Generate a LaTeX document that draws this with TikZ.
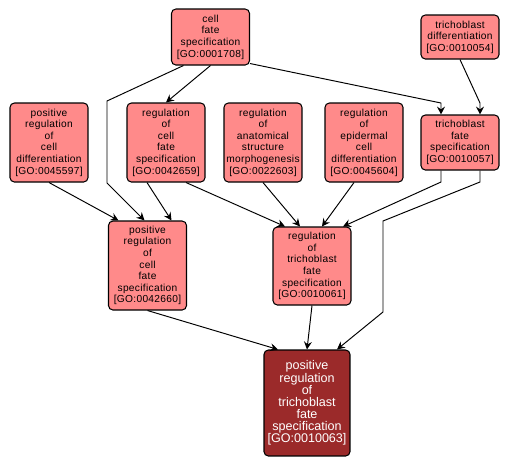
\documentclass[tikz,border=0pt]{standalone}
\usepackage{fontspec}
\usepackage{tikz}
\usepackage{xcolor}
\usetikzlibrary{arrows.meta,calc}
\newfontfamily\golabel[LetterSpace=3]{Liberation Sans}
\newfontfamily\gomain{Liberation Sans}
\definecolor{termfill}{RGB}{255,138,138}
\definecolor{mainfill}{RGB}{155,42,42}

\begin{document}
\begin{tikzpicture}[
  x=0.02cm, y=-0.02cm,
  term/.style={draw, line width=0.6pt, rounded corners=2.5pt, fill=termfill, align=center,
    inner sep=1pt, minimum width=1.56cm, font=\golabel\fontsize{5.8}{6.6}\selectfont},
  goal/.style={term, fill=mainfill, text=white, minimum width=1.72cm,
    font=\gomain\fontsize{7.15}{6.9}\selectfont},
  edge/.style={line width=0.55pt, -{Stealth[length=4.5pt, width=4.5pt, inset=1.6pt]}},
]
\useasboundingbox (0,0) rectangle (511,468);
% wiersz gorny
\node[term, minimum height=1.12cm] (cfs) at (210.5,37) {cell\\fate\\specification\\{}[GO:0001708]};
\node[term, minimum height=0.88cm] (td) at (460,37) {trichoblast\\differentiation\\{}[GO:0010054]};
% wiersz drugi
\node[term, minimum height=1.58cm] (prcd) at (49,142.5) {positive\\regulation\\of\\cell\\differentiation\\{}[GO:0045597]};
\node[term, minimum height=1.58cm] (rcfs) at (166,142.5) {regulation\\of\\cell\\fate\\specification\\{}[GO:0042659]};
\node[term, minimum height=1.58cm] (rasm) at (263,142.5) {regulation\\of\\anatomical\\structure\\morphogenesis\\{}[GO:0022603]};
\node[term, minimum height=1.58cm] (recd) at (364,142.5) {regulation\\of\\epidermal\\cell\\differentiation\\{}[GO:0045604]};
\node[term, minimum height=1.10cm] (tfs) at (460,142.5) {trichoblast\\fate\\specification\\{}[GO:0010057]};
% wiersz trzeci
\node[term, minimum height=1.78cm] (prcfs) at (147.5,265.5) {positive\\regulation\\of\\cell\\fate\\specification\\{}[GO:0042660]};
\node[term, minimum height=1.56cm] (rtfs) at (312,266) {regulation\\of\\trichoblast\\fate\\specification\\{}[GO:0010061]};
% wynik
\node[goal, minimum height=2.12cm] (prtfs) at (307,403) {positive\\regulation\\of\\trichoblast\\fate\\specification\\{}[GO:0010063]};
% punkty zalaman
\coordinate (k1) at (107,101);
\coordinate (k2) at (107,183);
\coordinate (k3) at (441,103);
\coordinate (k4) at (480,103);
\coordinate (k5) at (441,182);
\coordinate (k6) at (480,182);
\coordinate (k7) at (383,221);
\coordinate (k8) at (383,312);
% krawedzie
\draw[edge] (cfs.south) -- (rcfs.north);
\draw[edge] ($(cfs.south)+(-27,0)$) -- (k1) -- (k2) -- ($(prcfs.north)+(-3,0)$);
\draw[edge] ($(cfs.south east)+(0,-2)$) -- (k3) -- (k3 |- tfs.north);
\draw[edge] (td.south) -- (k4) -- (k4 |- tfs.north);
\draw[edge] (prcd.south) -- ($(prcfs.north)+(-29,0)$);
\draw[edge] ($(rcfs.south)+(-19,0)$) -- ($(prcfs.north)+(24,0)$);
\draw[edge] ($(rcfs.south)+(20,0)$) -- ($(rtfs.north)+(-27,0)$);
\draw[edge] (rasm.south) -- ($(rtfs.north)+(-12,0)$);
\draw[edge] ($(recd.south)+(-10,0)$) -- ($(rtfs.north)+(10,0)$);
\draw[edge] (k5 |- tfs.south) -- (k5) -- ($(rtfs.north)+(31,0)$);
\draw[edge] (k6 |- tfs.south) -- (k6) -- (k7) -- (k8) -- ($(prtfs.north)+(30,0)$);
\draw[edge] (prcfs.south) -- ($(prtfs.north)+(-29,0)$);
\draw[edge] (rtfs.south) -- (prtfs.north);
\end{tikzpicture}
\end{document}
